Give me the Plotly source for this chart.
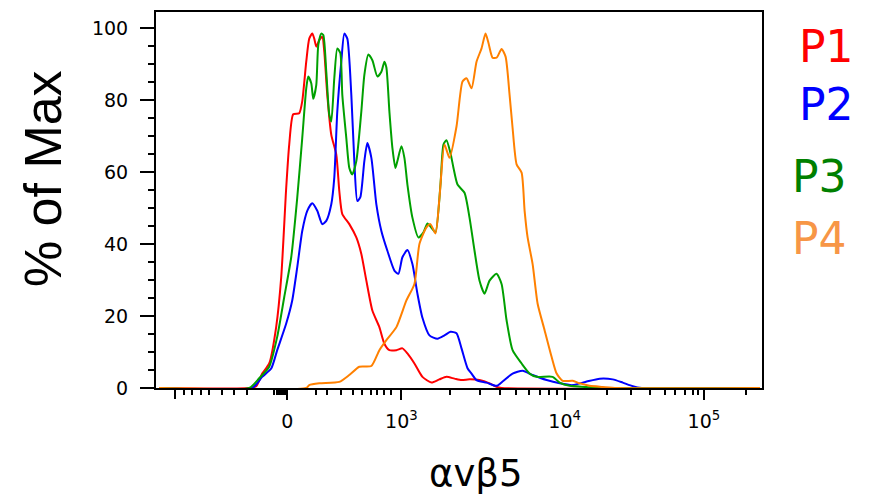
import plotly.graph_objects as go

# x positions are in display channels of the biexponential axis (0 = left frame edge)
p1_x = [3, 93, 100, 106, 113, 120, 125, 130, 133, 137, 143, 146, 150, 153, 156, 158, 160, 163, 166, 168, 171, 175, 180, 183, 186, 193, 200, 205, 210, 216, 223, 228, 233, 240, 246, 251, 258, 266, 275, 283, 290, 298, 305, 313, 323, 333, 340, 345, 602]
p1_y = [0, 0, 0.5, 4, 6.8, 17, 30.7, 55.6, 67.6, 76, 76.3, 79.6, 90.6, 97, 98.4, 97, 94.8, 96.6, 97.5, 93.4, 81.4, 70.3, 64.8, 54.7, 48.3, 45.5, 41.8, 37.2, 29.8, 21.5, 16.9, 12.3, 10.5, 10.5, 11, 9.6, 6.8, 3.1, 1.5, 2.4, 3.1, 2.6, 2.2, 2.4, 2.2, 1.3, 0.3, 0, 0]

p2_x = [3, 96, 106, 115, 121, 130, 136, 141, 146, 151, 156, 161, 166, 170, 175, 178, 181, 185, 188, 191, 195, 198, 201, 204, 208, 211, 215, 220, 225, 231, 238, 242, 246, 251, 256, 261, 266, 273, 281, 288, 294, 300, 305, 311, 315, 320, 330, 340, 346, 356, 366, 376, 390, 403, 416, 430, 443, 456, 466, 476, 485, 602]
p2_y = [0, 0, 3.1, 5.4, 10.5, 17.9, 24.3, 33.5, 43.6, 49.2, 51.3, 49.2, 45.5, 46.4, 51, 58.4, 76.8, 90.6, 98.4, 97, 81.4, 63, 51.9, 53, 63, 68, 63.9, 51, 43.6, 38.1, 32.6, 31.7, 36.3, 38.3, 34.4, 26.2, 19.5, 14.6, 13.7, 14.6, 15.6, 15.2, 11, 5.5, 4, 2.2, 1.5, 0.6, 1.8, 4, 4.8, 3.6, 2.2, 1.3, 0.8, 1.8, 2.6, 2.4, 1.5, 0.5, 0, 0]

p3_x = [3, 93, 103, 113, 121, 128, 135, 141, 146, 150, 152, 155, 157, 160, 162, 165, 167, 170, 173, 175, 178, 181, 184, 186, 190, 193, 196, 200, 205, 208, 212, 216, 221, 225, 228, 230, 233, 236, 239, 241, 245, 248, 251, 256, 262, 267, 271, 275, 279, 284, 287, 290, 294, 297, 301, 308, 313, 318, 323, 328, 333, 340, 345, 350, 356, 365, 373, 380, 396, 403, 413, 430, 440, 602]
p3_y = [0, 0, 2.7, 5.9, 14.2, 25.2, 36.3, 52.8, 69.4, 83.2, 86.5, 84.6, 80.3, 84.1, 95.2, 98.4, 98, 87.8, 75.9, 74, 86, 94.3, 93, 81.4, 69.4, 61.1, 59.3, 63, 76.8, 86.9, 92.6, 91, 86.5, 87.8, 90.6, 89, 76.8, 66.7, 61.1, 63, 67.1, 63.9, 56.5, 47.3, 41.8, 43.2, 45.7, 44.5, 43.2, 56.5, 67.6, 68.8, 65.2, 61.1, 56.5, 54.2, 47.3, 38.1, 29.8, 26.2, 29.8, 31.7, 28.9, 18.8, 10.5, 6.8, 4, 3.1, 3.1, 1.5, 0.6, 0.3, 0, 0]

p4_x = [3, 150, 153, 163, 183, 193, 203, 215, 223, 230, 240, 250, 258, 263, 270, 274, 279, 283, 288, 293, 300, 306, 310, 315, 320, 325, 329, 332, 336, 340, 345, 349, 353, 356, 360, 365, 368, 371, 376, 381, 388, 395, 400, 406, 416, 423, 433, 446, 460, 603]
p4_y = [0, 0, 0.8, 1.3, 1.7, 3.6, 5.9, 6.1, 10.5, 13.3, 16.9, 24.3, 28.9, 40, 44.6, 45.5, 42.9, 52.8, 67.6, 63.9, 72.6, 85.1, 86, 83.2, 90.6, 94.3, 98.4, 95.7, 91.7, 91.7, 94.1, 92, 81.4, 72.2, 62.1, 59.8, 49.2, 41.8, 34.4, 23.4, 16, 8.6, 4, 2, 2, 1.3, 0.6, 0.3, 0, 0]

series_names = ["P1", "P2", "P3", "P4"]
line_colors = ["#ff0000", "#0000ff", "#00a000", "#ff8000"]
legend_colors = ["#ff0000", "#0000ff", "#008000", "#f79646"]

x_major_vals = [131, 245, 408, 547]
x_major_text = ["0", "10<sup>3</sup>", "10<sup>4</sup>", "10<sup>5</sup>"]
x_unlabeled_major_vals = [19]
x_minor_vals = [28, 36, 45, 53, 66, 78, 91, 118, 121, 123, 125, 127, 129,
                160, 171, 185, 197, 206, 215, 221, 228, 235,
                294, 323, 343, 359, 372, 383, 392, 400,
                450, 474, 493, 508, 518, 528, 536, 541, 589]
y_major_vals = [0, 20, 40, 60, 80, 100]
y_minor_vals = [5, 10, 15, 25, 30, 35, 45, 50, 55, 65, 70, 75, 85, 90, 95]

x_title = "αvβ5"
y_title = "% of Max"

fig = go.Figure()
for xs, ys, name, col in zip([p1_x, p2_x, p3_x, p4_x], [p1_y, p2_y, p3_y, p4_y], series_names, line_colors):
    fig.add_trace(go.Scatter(x=xs, y=ys, mode="lines", name=name,
                             line=dict(color=col, width=2, shape="spline", smoothing=0.6),
                             showlegend=False))

fig.update_layout(
    width=887, height=498,
    margin=dict(l=156, r=125, t=10, b=110),
    paper_bgcolor="white", plot_bgcolor="white",
    font=dict(family="DejaVu Sans", color="black"),
    xaxis2=dict(overlaying="x", anchor="y", side="bottom", range=[0, 605],
                tickmode="array", tickvals=x_unlabeled_major_vals, showticklabels=False,
                ticks="outside", ticklen=10, tickwidth=2, tickcolor="black",
                showgrid=False, zeroline=False, showline=False),
)
fig.layout.xaxis.update(
    range=[0, 605], showgrid=False, zeroline=False,
    showline=True, linecolor="black", linewidth=2, mirror=True,
    tickmode="array", tickvals=x_major_vals, ticktext=x_major_text,
    ticks="outside", ticklen=10, tickwidth=2, tickcolor="black",
    tickfont=dict(family="DejaVu Sans", size=19, color="black"),
    ticklabelstandoff=5,
    minor=dict(tickmode="array", tickvals=x_minor_vals, ticks="outside",
               ticklen=5, tickwidth=2, tickcolor="black", showgrid=False),
)
fig.update_yaxes(
    range=[0, 104.4], showgrid=False, zeroline=False,
    showline=True, linecolor="black", linewidth=2, mirror=True,
    tickmode="array", tickvals=y_major_vals,
    ticks="outside", ticklen=14, tickwidth=2, tickcolor="black",
    tickfont=dict(family="DejaVu Sans", size=19, color="black"),
    ticklabelstandoff=8,
    minor=dict(tickmode="array", tickvals=y_minor_vals, ticks="outside",
               ticklen=6, tickwidth=2, tickcolor="black", showgrid=False),
)
# invisible helper trace so the unlabeled-major-tick axis is drawn
fig.add_trace(go.Scatter(x=[0], y=[0], xaxis="x2", yaxis="y", mode="lines",
                         line=dict(width=0), hoverinfo="skip", showlegend=False))

legend_pos = [(797, 45), (797, 103), (790, 175), (790, 238)]
for name, col, (px, py) in zip(series_names, legend_colors, legend_pos):
    fig.add_annotation(text=name, xref="paper", yref="paper",
                       x=(px - 156) / 606, y=(388 - py) / 378,
                       xanchor="left", yanchor="middle", showarrow=False,
                       font=dict(family="DejaVu Sans", size=44, color=col))

fig.add_annotation(text=x_title, xref="paper", yref="paper",
                   x=(475 - 156) / 606, y=(388 - 474) / 378,
                   xanchor="center", yanchor="middle", showarrow=False,
                   font=dict(family="DejaVu Sans", size=37, color="black"))
fig.add_annotation(text=y_title, xref="paper", yref="paper", textangle=-90,
                   x=(43 - 156) / 606, y=(388 - 178) / 378,
                   xanchor="center", yanchor="middle", showarrow=False,
                   font=dict(family="Liberation Sans Narrow, Liberation Sans", size=52, color="black"))

# remove the default page margin so the 887x498 figure fills the window exactly
fig.write_html("out.html", config={"displayModeBar": False},
               post_script="document.body.style.margin='0';document.body.style.overflow='hidden';")
